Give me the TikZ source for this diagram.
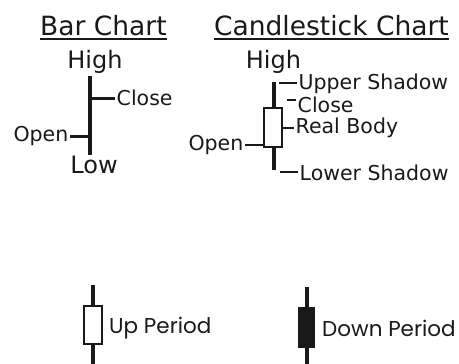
\documentclass[tikz,border=0pt]{standalone}
\usepackage{fontspec}
\setmainfont{DejaVu Sans}
\newfontfamily\periodfont{Poppins}
\usepackage{tikz}
\usetikzlibrary{calc}

\tikzset{
  title/.style={inner sep=0pt, anchor=base, font=\fontsize{26.5}{30}\selectfont},
  price/.style={inner sep=0pt, anchor=base, font=\fontsize{24}{28}\selectfont},
  lbl/.style={inner sep=1.5pt, font=\fontsize{20.5}{24}\selectfont},
  period/.style={inner sep=0pt, anchor=west, font=\periodfont\fontsize{21.5}{25}\selectfont},
  wick/.style={line width=4pt},
  tick/.style={line width=2pt},
}

\begin{document}
\begin{tikzpicture}[x=1pt, y=-1pt, black!90]
  \useasboundingbox (0,0) rectangle (459,364);
  % titles
  \node[title] (bartitle) at (103.5,35) {Bar Chart};
  \node[title] (candletitle) at (331.5,35) {Candlestick Chart};
  \draw[line width=1.4pt] ([yshift=-4pt]bartitle.base west) -- ([yshift=-4pt]bartitle.base east);
  \draw[line width=1.4pt] ([yshift=-4pt]candletitle.base west) -- ([yshift=-4pt]candletitle.base east);
  % bar chart
  \node[price] (barhigh) at (95,68) {High};
  \node[price] (barlow) at (94,173) {Low};
  \coordinate (bartop) at (90,76);
  \coordinate (barbot) at (90,155);
  \draw[wick] (bartop) -- (barbot);
  \node[lbl, anchor=west] (barclose) at (115,98) {Close};
  \node[lbl, anchor=east] (baropen) at (70,136) {Open};
  \draw[line width=3pt] (barclose.west) -- (barclose.west -| bartop);
  \draw[line width=3pt] (baropen.east) -- (baropen.east -| bartop);
  % candlestick
  \node[price] (candlehigh) at (273.5,68) {High};
  \coordinate (ctop) at (274,82);
  \coordinate (cbot) at (274,170);
  \node[draw, line width=2pt, minimum width=18pt, minimum height=39pt, inner sep=0pt] (cbody) at (273,127) {};
  \draw[wick] (ctop) -- (cbody.north -| ctop);
  \draw[wick] (cbody.south -| cbot) -- (cbot);
  \node[lbl, anchor=west] (upper) at (297,84) {Upper Shadow};
  \node[lbl, anchor=west] (cclose) at (296,105) {Close};
  \node[lbl, anchor=west] (realbody) at (294,128) {Real Body};
  \node[lbl, anchor=east] (copen) at (245,145) {Open};
  \node[lbl, anchor=west] (lower) at (298,173) {Lower Shadow};
  \draw[tick] (upper.west |- ctop) ++(0,1) -- (279,83);
  \draw[tick] (cclose.west) ++(0,-5) -- (287,100);
  \draw[tick] (realbody.west) -- (cbody.east |- realbody.west) ++(1,0);
  \draw[tick] (copen.east) -- (copen.east -| cbody.west);
  \draw[tick] (lower.west) ++(0,-1) -- (280,172);
  % periods
  \coordinate (uptop) at (93,285);
  \coordinate (upbot) at (93,366);
  \node[draw, line width=2.5pt, fill=white, minimum width=18pt, minimum height=38pt, inner sep=0pt] (upbody) at (93,325) {};
  \draw[wick] (uptop) -- (upbody.north);
  \draw[wick] (upbody.south) -- (upbot);
  \node[period] (upperiod) at (109,328) {Up Period};
  \coordinate (dntop) at (307,287);
  \coordinate (dnbot) at (307,366);
  \node[fill=black!90, minimum width=17pt, minimum height=41pt, inner sep=0pt] (dnbody) at (306.5,327.5) {};
  \draw[wick] (dntop) -- (dnbody.north -| dntop);
  \draw[wick] (dnbody.south -| dnbot) -- (dnbot);
  \node[period] (downperiod) at (322,328) {Down Period};
\end{tikzpicture}
\end{document}
